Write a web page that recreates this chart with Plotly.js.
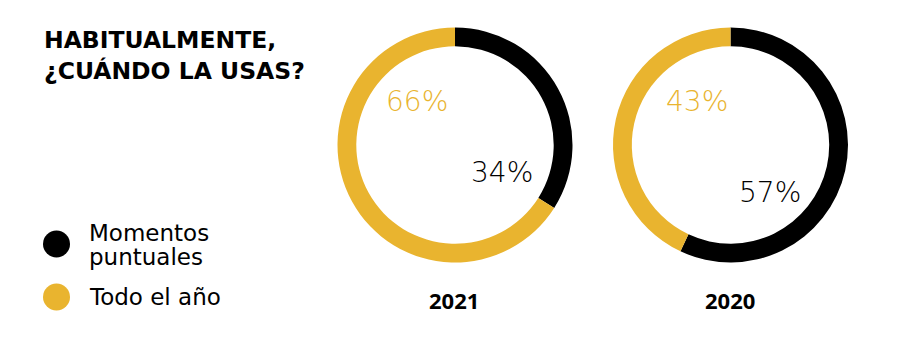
<!DOCTYPE html>
<html>
<head>
<meta charset="utf-8">
<script src="https://cdn.plot.ly/plotly-3.0.1.min.js"></script>
<style>html,body{margin:0;padding:0;background:#fff;}#chart{width:900px;height:356px;}</style>
</head>
<body>
<div id="chart"></div>
<script>
const categories = ["Momentos puntuales", "Todo el año"];
const years = ["2021", "2020"];
const values2021 = [34, 66];
const values2020 = [57, 43];
const titleLines = ["HABITUALMENTE,", "¿CUÁNDO LA USAS?"];
const colors = ["#000000", "#E9B42F"];

const W = 900, H = 356;
const px = v => v / W;
const py = v => 1 - v / H;

function pieTrace(vals, cx, cy, r) {
  return {
    type: "pie",
    values: vals,
    labels: categories,
    sort: false,
    direction: "clockwise",
    rotation: 0,
    hole: 0.84,
    textinfo: "none",
    hoverinfo: "none",
    showlegend: false,
    marker: { colors: colors, line: { width: 0 } },
    domain: { x: [px(cx - r), px(cx + r)], y: [py(cy + r), py(cy - r)] }
  };
}

const data = [
  pieTrace(values2021, 455, 145, 117.5),
  pieTrace(values2020, 730.5, 145, 117.5)
];

const pctFont = (c) => ({ family: "DejaVu Sans, sans-serif", size: 28, color: c, weight: 200 });
const ann = (text, x, y, font, xanchor) => ({
  text: text, x: px(x), y: py(y), xref: "paper", yref: "paper",
  xanchor: xanchor || "center", yanchor: "middle", showarrow: false, font: font
});

const annotations = [
  ann(titleLines[0], 42, 40, { family: "DejaVu Sans, sans-serif", size: 23.5, color: "#000", weight: 700 }, "left"),
  ann(titleLines[1], 42, 71, { family: "DejaVu Sans, sans-serif", size: 23.5, color: "#000", weight: 700 }, "left"),
  ann(values2021[1] + "%", 417, 102, pctFont(colors[1])),
  ann(values2021[0] + "%", 502, 172, pctFont("#000")),
  ann(values2020[1] + "%", 697, 102, pctFont(colors[1])),
  ann(values2020[0] + "%", 770, 192, pctFont("#000")),
  ann(years[0], 454, 300, { family: "Open Sans, sans-serif", size: 22, color: "#000", weight: 700 }),
  ann(years[1], 730, 300, { family: "Open Sans, sans-serif", size: 22, color: "#000", weight: 700 }),
  ann("Momentos", 87, 233, { family: "DejaVu Sans, sans-serif", size: 23, color: "#000" }, "left"),
  ann("puntuales", 87, 257, { family: "DejaVu Sans, sans-serif", size: 23, color: "#000" }, "left"),
  ann(categories[1], 87, 297, { family: "DejaVu Sans, sans-serif", size: 23, color: "#000" }, "left")
];

const shapes = [
  { type: "circle", xref: "paper", yref: "paper", x0: px(43), x1: px(70), y0: py(257.5), y1: py(230.5), fillcolor: colors[0], line: { width: 0 } },
  { type: "circle", xref: "paper", yref: "paper", x0: px(43), x1: px(70), y0: py(310.5), y1: py(283.5), fillcolor: colors[1], line: { width: 0 } }
];

const layout = {
  width: W, height: H,
  margin: { l: 0, r: 0, t: 0, b: 0 },
  paper_bgcolor: "#ffffff",
  showlegend: false,
  annotations: annotations,
  shapes: shapes
};

Plotly.newPlot("chart", data, layout, { displayModeBar: false, staticPlot: true });
</script>
</body>
</html>
